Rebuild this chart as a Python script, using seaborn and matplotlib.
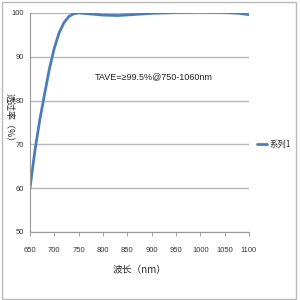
import matplotlib
matplotlib.use("Agg")
import matplotlib.pyplot as plt
import seaborn as sns
import pandas as pd
import numpy as np

wavelength = [650, 660, 670, 680, 690, 700, 710, 720, 730, 740, 750, 770, 800, 830, 860, 900, 950, 1000, 1050, 1080, 1100]
transmittance = [60, 68.5, 75.5, 81.5, 87.3, 92, 95.5, 97.8, 99.2, 99.8, 100, 99.8, 99.5, 99.4, 99.6, 99.9, 100.1, 100.2, 100.1, 99.9, 99.6]
x_ticks = [650, 700, 750, 800, 850, 900, 950, 1000, 1050, 1100]
y_ticks = [50, 60, 70, 80, 90, 100]
series_name = "系列1"
annotation = "TAVE=≥99.5%@750-1060nm"

sns.set_theme(style="white")
plt.rcParams['font.family'] = ['Noto Sans CJK SC', 'DejaVu Sans']
narrow = ['Liberation Sans', 'DejaVu Sans']

df = pd.DataFrame({"wavelength": wavelength, "T": transmittance})

fig = plt.figure(figsize=(3, 3), dpi=100)
ax = fig.add_axes([0.1, 0.227, 0.73, 0.73])
sns.lineplot(data=df, x="wavelength", y="T", ax=ax, color="#4a7ebb", linewidth=2, label=series_name)

ax.set_xlim(650, 1100)
ax.set_ylim(50, 100)
ax.set_xticks(x_ticks)
ax.set_yticks(y_ticks)
ax.tick_params(axis='both', labelsize=5.5, colors="#333333", length=3, width=0.6)
ax.tick_params(axis='y', length=0, pad=4)
ax.tick_params(axis='x', direction='out', bottom=True, color="#999999", pad=8)
for lab in ax.get_xticklabels() + ax.get_yticklabels():
    lab.set_family(narrow)
ax.yaxis.grid(True, color="#b8b8b8", linewidth=1)
ax.xaxis.grid(False)
for s in ["top", "right"]:
    ax.spines[s].set_visible(False)
for s in ["left", "bottom"]:
    ax.spines[s].set_color("#999999")
    ax.spines[s].set_linewidth(0.8)

ax.set_xlabel("波长（nm）", fontsize=7, labelpad=8)
ax.set_ylabel("")
fig.text(0.03, 0.6, "透过率（%）", rotation=270, fontsize=6.5, ha="center", va="center")
ax.text(905, 85.4, annotation, fontsize=6.5, ha="center", va="center", color="#222222",
        family=narrow)

leg = ax.legend(loc="center left", bbox_to_anchor=(1.0, 0.4), frameon=False, fontsize=6,
                handlelength=1.2, handletextpad=0.3)

fig.patches.append(plt.Rectangle((0.005, 0.005), 0.98, 0.99, transform=fig.transFigure,
                                 fill=False, edgecolor="#bbbbbb", linewidth=1))
fig.savefig("out.png", dpi=100)
